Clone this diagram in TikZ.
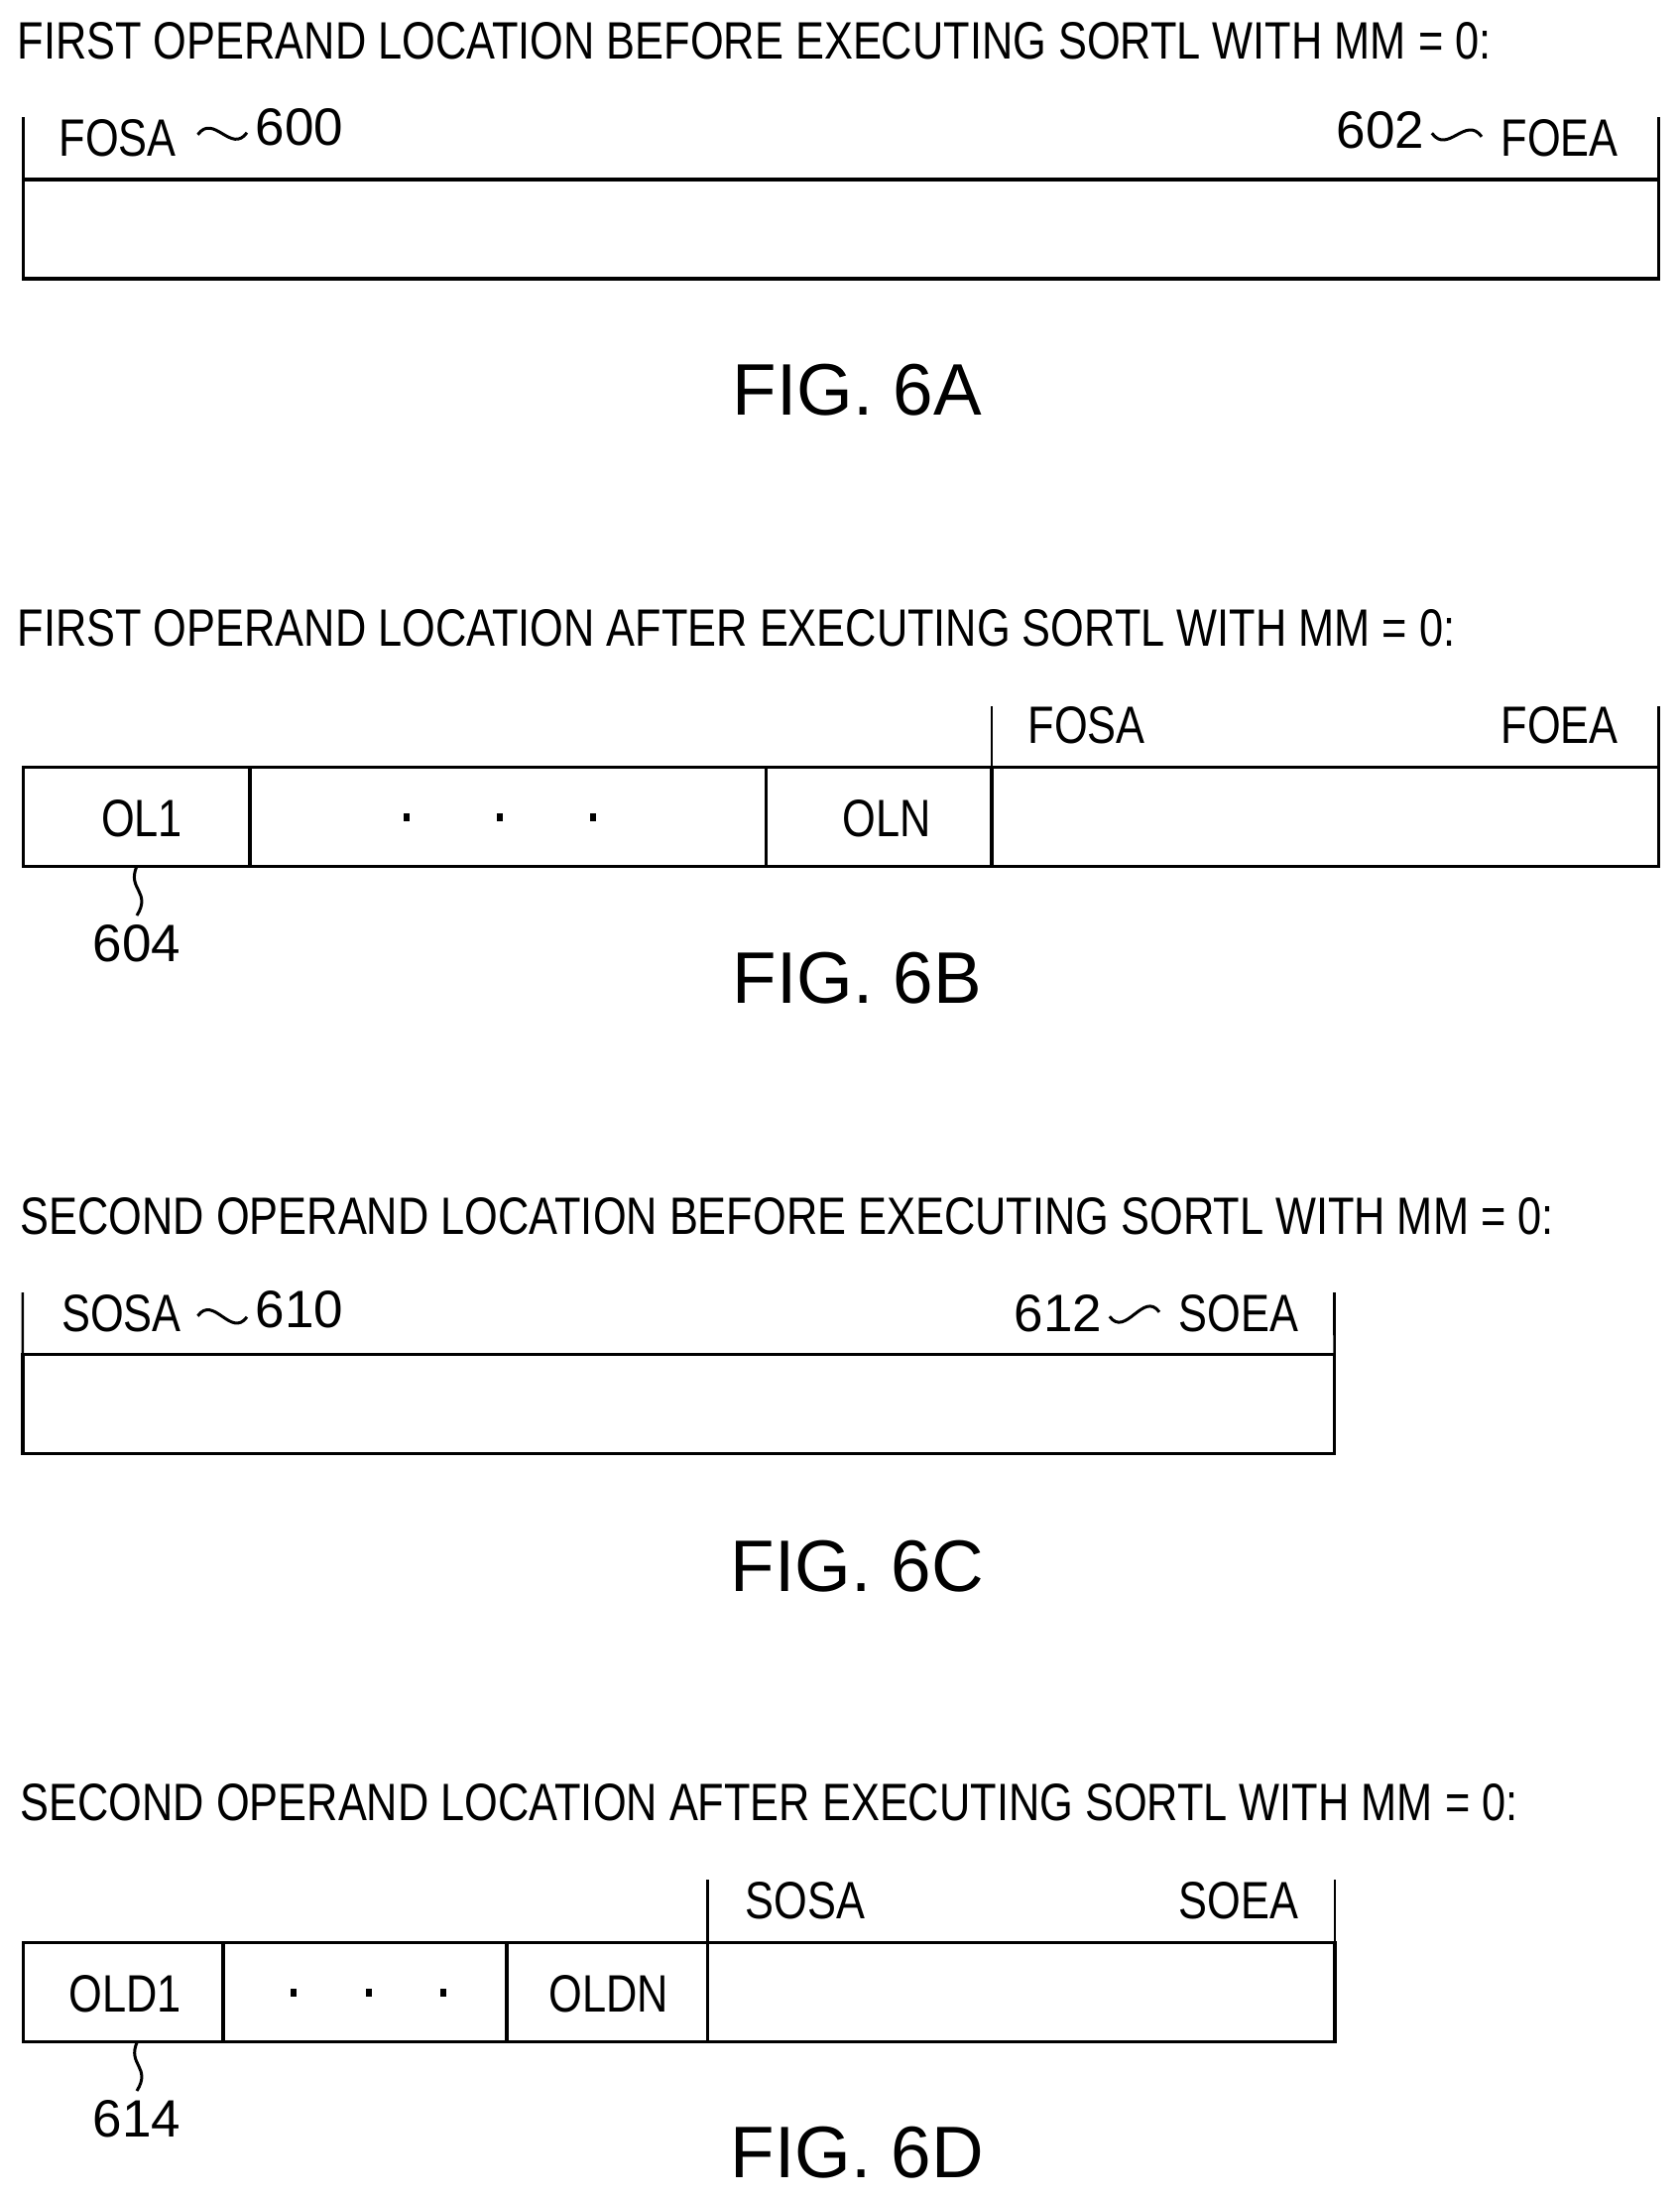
\documentclass[tikz,border=0pt]{standalone}
\usepackage{fontspec}
\usepackage{tikz}
\usetikzlibrary{positioning}
\setmainfont{Liberation Sans}[FakeStretch=0.818]
\newfontfamily\numfont{Liberation Sans}[FakeStretch=1.0]
\newfontfamily\capfont{Liberation Sans}[FakeStretch=0.99]

\begin{document}
\begin{tikzpicture}[
    x=1pt,
    y=-1pt,
    line width=3.4pt,
    cell/.style={rectangle, draw, inner sep=0pt, outer sep=0pt, minimum height=100pt},
    heading/.style={inner sep=0pt, anchor=base west, font=\fontsize{53}{60}\selectfont},
    tag/.style={inner sep=0pt, anchor=base west, font=\fontsize{53}{60}\selectfont},
    num/.style={inner sep=0pt, anchor=base west, font=\numfont\fontsize{53}{60}\selectfont},
    entry/.style={inner sep=0pt, anchor=base, font=\fontsize{53}{60}\selectfont},
    figcap/.style={inner sep=0pt, anchor=base west, font=\capfont\fontsize{73.6}{80}\selectfont},
    dotmark/.style={rectangle, fill, inner sep=0pt, minimum width=6pt, minimum height=8pt},
    tick/.style={line width=2.6pt},
    lead/.style={line width=3pt}
]
\useasboundingbox (0,0) rectangle (1694,2217);

% FIG. 6A
\node[heading] (title_a) at (16,59) {FIRST OPERAND LOCATION BEFORE EXECUTING SORTL WITH MM = 0:};
\node[cell, minimum width=1649pt] (box_a) at (848,231) {};
\coordinate (top_a_l) at (23.5,118);
\coordinate (top_a_r) at (1672.5,118);
\draw[tick] (box_a.north west) -- (top_a_l);
\draw[tick] (box_a.north east) -- (top_a_r);
\node[tag] (fosa_a) at (58,157) {FOSA};
\node[num] (num_600) at (256,146) {600};
\node[num] (num_602) at (1346,149.5) {602};
\node[tag] (foea_a) at (1512,157) {FOEA};
\draw[lead] ([xshift=20pt,yshift=3pt]fosa_a.east) .. controls +(16,-22) and +(-16,22) .. ([xshift=-7pt,yshift=-6pt]num_600.west);
\draw[lead] ([xshift=6pt,yshift=-3pt]num_602.east) .. controls +(16,22) and +(-16,-22) .. ([xshift=-18pt,yshift=1pt]foea_a.west);
\node[figcap] (fig_a) at (737,418) {FIG. 6A};

% FIG. 6B
\node[heading] (title_b) at (16,651) {FIRST OPERAND LOCATION AFTER EXECUTING SORTL WITH MM = 0:};
\node[cell, minimum width=228.5pt] (ol1) at (137.75,823.7) {};
\node[cell, minimum width=520.5pt] (dots_b) at (512.25,823.7) {};
\node[cell, minimum width=227.5pt] (oln) at (886.25,823.7) {};
\node[cell, minimum width=672.5pt] (free_b) at (1336.25,823.7) {};
\coordinate (top_b_l) at (1000,711.5);
\coordinate (top_b_r) at (1672.5,711.5);
\draw[tick] (free_b.north west) -- (top_b_l);
\draw[tick] (free_b.north east) -- (top_b_r);
\node[entry] (txt_ol1) at (143,843) {OL1};
\node[dotmark] (dot_b1) at (410,824) {};
\node[dotmark] (dot_b2) at (504,824) {};
\node[dotmark] (dot_b3) at (598,824) {};
\node[entry] (txt_oln) at (894,843) {OLN};
\node[tag] (fosa_b) at (1035,749) {FOSA};
\node[tag] (foea_b) at (1512,749) {FOEA};
\node[num, anchor=base, outer ysep=9pt] (num_604) at (138,969) {604};
\draw[lead] (ol1.south) .. controls (128,897) and (153,899) .. (num_604.north);
\node[figcap] (fig_b) at (737,1011) {FIG. 6B};

% FIG. 6C
\node[heading] (title_c) at (19,1244) {SECOND OPERAND LOCATION BEFORE EXECUTING SORTL WITH MM = 0:};
\node[cell, minimum width=1322.7pt] (box_c) at (684.2,1415.7) {};
\coordinate (top_c_l) at (22.8,1303);
\coordinate (top_c_r) at (1345.5,1303);
\draw[tick] (box_c.north west) -- (top_c_l);
\draw[tick] (box_c.north east) -- (top_c_r);
\node[tag] (sosa_c) at (60.5,1342) {SOSA};
\node[num] (num_610) at (256,1338) {610};
\node[num] (num_612) at (1021,1342.5) {612};
\node[tag] (soea_c) at (1187,1342) {SOEA};
\draw[lead] ([xshift=15pt,yshift=-3pt]sosa_c.east) .. controls +(16,-22) and +(-16,22) .. ([xshift=-7pt,yshift=-8pt]num_610.west);
\draw[lead] ([xshift=6pt,yshift=-3pt]num_612.east) .. controls +(16,22) and +(-16,-22) .. ([xshift=-18pt,yshift=1pt]soea_c.west);
\node[figcap] (fig_c) at (735,1604) {FIG. 6C};

% FIG. 6D
\node[heading] (title_d) at (19,1835.7) {SECOND OPERAND LOCATION AFTER EXECUTING SORTL WITH MM = 0:};
\node[cell, minimum width=201.5pt] (old1) at (124.25,2008.7) {};
\node[cell, minimum width=286pt] (dots_d) at (368,2008.7) {};
\node[cell, minimum width=202.6pt] (oldn) at (612.3,2008.7) {};
\node[cell, minimum width=632.4pt] (free_d) at (1029.8,2008.7) {};
\coordinate (top_d_l) at (713.6,1895);
\coordinate (top_d_r) at (1346,1895);
\draw[tick] (free_d.north west) -- (top_d_l);
\draw[tick] (free_d.north east) -- (top_d_r);
\node[entry] (txt_old1) at (126,2028.7) {OLD1};
\node[dotmark] (dot_d1) at (296,2009) {};
\node[dotmark] (dot_d2) at (372,2009) {};
\node[dotmark] (dot_d3) at (447,2009) {};
\node[entry] (txt_oldn) at (614,2028.7) {OLDN};
\node[tag] (sosa_d) at (750,1934) {SOSA};
\node[tag] (soea_d) at (1187,1934) {SOEA};
\node[num, anchor=base, outer ysep=9pt] (num_614) at (138,2154) {614};
\draw[lead] ([xshift=14pt]old1.south) .. controls (128,2082) and (153,2084) .. (num_614.north);
\node[figcap] (fig_d) at (735,2195.7) {FIG. 6D};

\end{tikzpicture}
\end{document}
